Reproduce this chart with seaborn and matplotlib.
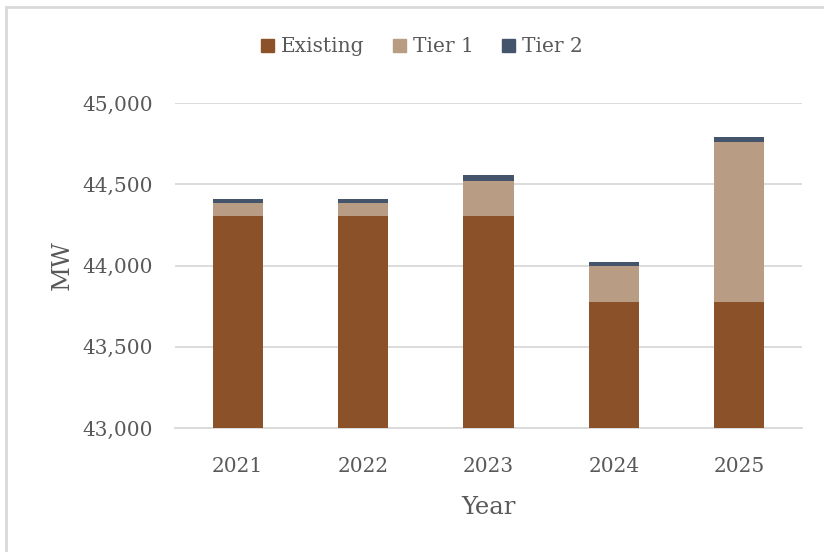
import matplotlib
matplotlib.use("Agg")
import matplotlib.pyplot as plt
import matplotlib.patches as mpatches
import pandas as pd
import seaborn as sns

years = ["2021", "2022", "2023", "2024", "2025"]
existing = [44305, 44305, 44305, 43773, 43773]
tier1 = [78, 78, 217, 227, 985]
tier2 = [26, 26, 33, 22, 30]

c_exist = "#8B5229"
c_t1 = "#B89C84"
c_t2 = "#44546A"
txt = "#595959"

sns.set_theme(style="white")
plt.rcParams["font.family"] = ["DejaVu Serif"]

df = pd.DataFrame({"Year": years, "Existing": existing, "Tier 1": tier1, "Tier 2": tier2})
df["lvl1"] = df["Existing"] + df["Tier 1"]
df["lvl2"] = df["lvl1"] + df["Tier 2"]

fig = plt.figure(figsize=(8.24, 5.52), dpi=100)
ax = fig.add_axes([175 / 824, 1 - 428 / 552, 627 / 824, 325 / 552])

# stacked by overlaying cumulative totals
sns.barplot(data=df, x="Year", y="lvl2", color=c_t2, width=0.4, saturation=1, linewidth=0, ax=ax, zorder=3)
sns.barplot(data=df, x="Year", y="lvl1", color=c_t1, width=0.4, saturation=1, linewidth=0, ax=ax, zorder=4)
sns.barplot(data=df, x="Year", y="Existing", color=c_exist, width=0.4, saturation=1, linewidth=0, ax=ax, zorder=5)

ax.set_ylim(43000, 45000)
ax.set_yticks([43000, 43500, 44000, 44500, 45000])
ax.set_yticklabels([f"{v:,}" for v in [43000, 43500, 44000, 44500, 45000]])
ax.yaxis.grid(True, color="#D9D9D9", linewidth=1.3, zorder=0)
ax.set_axisbelow(True)
for s in ["left", "right", "top"]:
    ax.spines[s].set_visible(False)
ax.spines["bottom"].set_color("#D9D9D9")
ax.spines["bottom"].set_linewidth(1.3)
ax.tick_params(axis="both", length=0, labelsize=14.5, colors=txt)
ax.tick_params(axis="x", pad=21)
ax.tick_params(axis="y", pad=16)
ax.set_xlabel("Year", fontsize=17.5, color=txt, labelpad=14)
ax.set_ylabel("MW", fontsize=17.5, color=txt, labelpad=6)

handles = [mpatches.Patch(color=c_exist, label="Existing"),
           mpatches.Patch(color=c_t1, label="Tier 1"),
           mpatches.Patch(color=c_t2, label="Tier 2")]
fig.legend(handles=handles, loc="center", bbox_to_anchor=(422 / 824, 1 - 47 / 552), ncol=3,
           frameon=False, fontsize=14.5, labelcolor=txt, handlelength=0.65, handleheight=0.65,
           handletextpad=0.35, columnspacing=1.4)

# outer chart border (only top and left visible in the reference)
fig.patches.append(mpatches.Rectangle((5.5 / 824, -0.2), 1.2, 1.2 - 7 / 552, transform=fig.transFigure,
                                      fill=False, edgecolor="#D9D9D9", linewidth=2))

fig.savefig("out.png", dpi=100)
